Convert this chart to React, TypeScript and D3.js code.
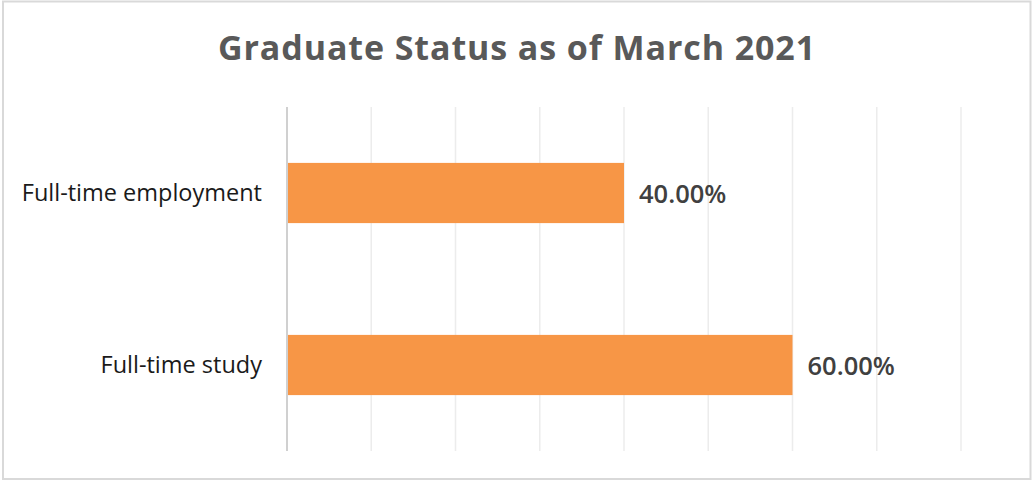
import React, { useEffect } from "react";
import * as d3 from "d3";

const categories = ["Full-time employment", "Full-time study"];
const values = [0.4, 0.6];
const xTicks = [0, 0.1, 0.2, 0.3, 0.4, 0.5, 0.6, 0.7, 0.8];
const title = "Graduate Status as of March 2021";

const W = 1032;
const H = 481;
const plot = { left: 287, right: 961, top: 107, bottom: 451 };

export default function App() {
  useEffect(() => {
    document.body.style.margin = "0";
  }, []);

  const x = d3.scaleLinear().domain([0, 0.8]).range([plot.left, plot.right]);
  const y = d3
    .scaleBand<string>()
    .domain(categories)
    .range([plot.top, plot.bottom])
    .paddingInner(0.65)
    .paddingOuter(0.325);
  const fmt = d3.format(".2%");
  const font = "'Open Sans', 'Noto Sans', sans-serif";

  return (
    <svg width={W} height={H} style={{ display: "block" }}>
      <rect x={0} y={0} width={W} height={H} fill="#fff" />
      <rect x={3} y={1.5} width={1027.5} height={477.5} fill="none" stroke="#d9d9d9" strokeWidth={2} />
      <text
        x={517}
        y={60}
        textAnchor="middle"
        fontFamily={font}
        fontWeight={700}
        fontSize={34}
        letterSpacing={0.9}
        fill="#595959"
      >
        {title}
      </text>
      {xTicks.slice(1).map((t) => (
        <line key={t} x1={x(t)} x2={x(t)} y1={plot.top} y2={plot.bottom} stroke="#ececec" strokeWidth={1.5} />
      ))}
      {categories.map((c, i) => (
        <g key={c}>
          <rect x={x(0)} y={y(c)} width={x(values[i]) - x(0)} height={y.bandwidth()} fill="#F79646" />
          <text
            x={x(values[i]) + 15}
            y={(y(c) as number) + y.bandwidth() / 2}
            dy="0.38em"
            fontFamily={font}
            fontWeight={600}
            fontSize={25.5}
            fill="#404040"
          >
            {fmt(values[i])}
          </text>
          <text
            x={262}
            y={(y(c) as number) + y.bandwidth() / 2}
            dy="0.35em"
            textAnchor="end"
            fontFamily={font}
            fontSize={23.5}
            fill="#1a1a1a"
          >
            {c}
          </text>
        </g>
      ))}
      <line x1={x(0)} x2={x(0)} y1={plot.top} y2={plot.bottom} stroke="#d0d0d0" strokeWidth={2} />
    </svg>
  );
}
